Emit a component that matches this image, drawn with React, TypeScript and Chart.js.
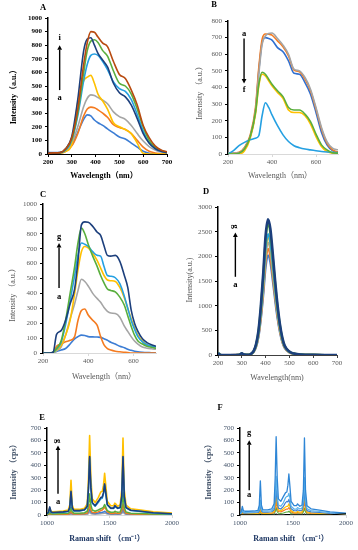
import React, { useEffect, useRef } from "react";
import { Chart, registerables } from "chart.js";
Chart.register(...registerables);

const SERIF = "'Liberation Serif', 'Noto Sans CJK SC', serif";

// ---------- colours ----------
const C_BLUE = "#3c7dd4";
const C_ORANGE = "#f47b20";
const C_GRAY = "#a5a5a5";
const C_YELLOW = "#ffc000";
const C_LBLUE = "#25a0e2";
const C_GREEN = "#59ae3d";
const C_NAVY = "#1c3f7c";
const C_BROWN = "#b84a0f";
const C_MBLUE = "#2e86d6";
const C_SKY = "#5ab3ea";

// ---------- Panel A ----------
const A_X = [200, 225, 250, 275, 300, 325, 350, 365, 380, 395, 410, 430, 450, 475, 500, 525, 550, 575, 600, 625, 650, 675, 700];
const A_a = [10, 10, 10, 25, 65, 160, 255, 288, 280, 250, 230, 210, 185, 155, 125, 110, 80, 50, 20, 5, 0, 0, 0];
const A_b = [3, 3, 5, 20, 60, 150, 280, 330, 345, 340, 325, 300, 270, 215, 195, 180, 150, 100, 50, 20, 8, 3, 0];
const A_c = [5, 5, 8, 25, 80, 200, 350, 410, 435, 430, 415, 395, 370, 310, 275, 255, 210, 150, 95, 55, 30, 15, 8];
const A_d = [0, 0, 5, 20, 70, 380, 540, 565, 578, 520, 440, 390, 330, 230, 200, 180, 150, 80, 5, 0, 0, 0, 0];
const A_e = [5, 5, 8, 30, 100, 280, 540, 660, 725, 735, 725, 680, 620, 530, 480, 460, 400, 290, 170, 80, 40, 20, 10];
const A_f = [5, 5, 8, 35, 110, 300, 600, 760, 830, 840, 820, 760, 720, 610, 520, 500, 440, 330, 200, 100, 50, 25, 12];
const A_g = [10, 8, 10, 40, 130, 400, 760, 845, 855, 800, 740, 690, 640, 520, 450, 420, 360, 260, 150, 80, 40, 20, 10];
const A_h = [5, 8, 10, 40, 120, 330, 660, 820, 900, 895, 860, 815, 790, 680, 585, 555, 470, 360, 210, 120, 60, 30, 15];
const A_XTICKS = [200, 300, 400, 500, 600, 700];

// ---------- Panel B ----------
const B_X = [200, 225, 250, 275, 300, 325, 340, 355, 370, 385, 400, 425, 450, 475, 500, 525, 550, 575, 600, 625, 650, 675, 700];
const B_blue = [5, 5, 8, 35, 100, 260, 500, 670, 700, 695, 685, 640, 615, 560, 485, 480, 430, 360, 250, 130, 55, 20, 10];
const B_orange = [5, 5, 10, 40, 110, 280, 520, 690, 722, 720, 715, 680, 645, 590, 505, 495, 450, 380, 270, 150, 65, 25, 12];
const B_gray = [5, 5, 8, 35, 100, 260, 480, 660, 710, 725, 728, 695, 655, 600, 510, 500, 460, 390, 280, 160, 75, 35, 25];
const B_yellow = [0, 0, 0, 20, 90, 240, 410, 480, 470, 440, 410, 370, 335, 265, 250, 250, 230, 180, 105, 45, 15, 5, 0];
const B_lblue = [0, 20, 50, 70, 85, 95, 110, 230, 308, 280, 235, 170, 115, 75, 50, 38, 30, 25, 20, 15, 12, 10, 8];
const B_green = [0, 0, 5, 30, 100, 250, 420, 492, 480, 450, 420, 380, 345, 280, 265, 265, 240, 195, 120, 55, 25, 8, 5];
const B_XTICKS = [200, 400, 600];

// ---------- Panel C ----------
const C_X = [200, 230, 245, 260, 280, 300, 320, 340, 355, 370, 385, 400, 420, 440, 455, 470, 485, 500, 520, 540, 560, 575, 590, 605, 620, 640, 660, 680, 700];
const C_a = [0, 0, 3, 10, 20, 30, 60, 95, 110, 120, 118, 110, 108, 107, 105, 95, 85, 72, 60, 45, 35, 25, 18, 12, 8, 5, 3, 2, 0];
const C_b = [0, 0, 3, 45, 60, 75, 85, 110, 220, 285, 295, 255, 220, 185, 110, 55, 30, 20, 12, 8, 5, 3, 0, 0, 0, 0, 0, 0, 0];
const C_c = [0, 0, 3, 15, 40, 120, 230, 330, 420, 495, 480, 450, 400, 365, 340, 305, 280, 268, 265, 240, 180, 145, 110, 80, 60, 40, 32, 28, 25];
const C_d = [0, 0, 5, 20, 50, 120, 220, 400, 560, 680, 715, 705, 670, 620, 570, 520, 490, 485, 480, 440, 370, 300, 230, 170, 120, 80, 55, 45, 40];
const C_e = [0, 0, 5, 25, 70, 190, 350, 520, 660, 738, 730, 715, 680, 655, 650, 580, 520, 515, 505, 465, 380, 300, 220, 160, 110, 75, 55, 45, 40];
const C_f = [0, 0, 5, 30, 80, 220, 400, 580, 740, 838, 800, 730, 650, 580, 520, 470, 430, 420, 410, 375, 320, 250, 180, 120, 80, 60, 45, 38, 32];
const C_g = [0, 0, 5, 125, 150, 220, 330, 430, 620, 860, 880, 878, 850, 810, 790, 720, 655, 650, 655, 615, 520, 440, 290, 200, 145, 95, 70, 55, 45];
const C_XTICKS = [200, 400, 600];

// ---------- Panel D ----------
const D_X = [200, 205, 215, 250, 290, 300, 310, 330, 340, 350, 360, 370, 380, 390, 400, 410, 420, 430, 440, 450, 460, 470, 480, 500, 520, 550, 600, 650, 700];
const D_a = [45, 15, 0, 0, 3, 30, 5, 1, 20, 61, 162, 364, 727, 1212, 1778, 2020, 1879, 1515, 1111, 747, 465, 263, 141, 51, 20, 6, 1, 0, 0];
const D_b = [30, 8, 0, 0, 3, 25, 5, 1, 22, 65, 172, 387, 774, 1290, 1892, 2150, 2000, 1613, 1183, 796, 495, 280, 151, 54, 22, 6, 1, 0, 0];
const D_c = [30, 10, 0, 0, 3, 25, 5, 1, 23, 68, 182, 410, 821, 1368, 2006, 2280, 2120, 1710, 1254, 844, 524, 296, 160, 57, 23, 7, 1, 0, 0];
const D_d = [35, 10, 0, 0, 4, 28, 5, 2, 24, 72, 192, 432, 864, 1440, 2112, 2400, 2232, 1800, 1320, 888, 552, 312, 168, 60, 24, 7, 2, 0, 0];
const D_e = [40, 12, 0, 0, 4, 28, 6, 2, 25, 74, 196, 441, 882, 1470, 2156, 2450, 2279, 1838, 1348, 907, 564, 319, 172, 61, 25, 7, 2, 0, 0];
const D_f = [50, 18, 0, 0, 4, 30, 6, 2, 27, 80, 212, 477, 954, 1590, 2332, 2650, 2465, 1988, 1458, 980, 610, 345, 186, 66, 27, 8, 2, 0, 0];
const D_g = [45, 15, 0, 0, 5, 35, 8, 2, 28, 83, 220, 495, 990, 1650, 2420, 2750, 2560, 2060, 1510, 1020, 630, 360, 190, 70, 28, 8, 2, 0, 0];
const D_XTICKS = [200, 300, 400, 500, 600, 700];

// ---------- Panels E / F (Raman) ----------
const R_X = [1000, 1012, 1022, 1032, 1045, 1080, 1130, 1170, 1182, 1192, 1202, 1215, 1260, 1300, 1322, 1332, 1341, 1351, 1362, 1385, 1410, 1430, 1442, 1452, 1461, 1470, 1482, 1510, 1533, 1543, 1553, 1565, 1585, 1598, 1608, 1618, 1632, 1670, 1750, 1850, 2000];
const E_yellow = [15, 25, 55, 30, 25, 28, 32, 40, 80, 280, 80, 45, 45, 55, 90, 300, 640, 300, 130, 100, 140, 185, 190, 240, 335, 240, 110, 75, 75, 95, 85, 70, 80, 200, 620, 200, 80, 50, 40, 25, 15];
const E_navy = [10, 25, 65, 25, 20, 22, 25, 30, 60, 190, 60, 35, 35, 42, 70, 220, 470, 220, 100, 75, 110, 140, 145, 180, 250, 180, 85, 55, 55, 75, 65, 55, 60, 150, 470, 150, 60, 38, 30, 18, 10];
const E_lblue = [10, 22, 55, 22, 18, 20, 22, 28, 55, 180, 55, 32, 32, 40, 65, 210, 460, 210, 95, 70, 100, 130, 135, 170, 240, 170, 80, 52, 52, 70, 62, 52, 58, 145, 460, 145, 58, 36, 28, 16, 8];
const E_green = [5, 10, 25, 10, 8, 10, 12, 14, 25, 60, 25, 15, 15, 18, 30, 80, 170, 80, 40, 30, 40, 50, 55, 65, 85, 65, 35, 22, 22, 30, 26, 22, 24, 60, 180, 60, 24, 15, 12, 8, 5];
const E_orange = [3, 5, 12, 5, 5, 5, 6, 7, 12, 30, 12, 8, 8, 10, 15, 40, 85, 40, 20, 18, 25, 35, 40, 50, 65, 50, 25, 12, 12, 18, 15, 12, 14, 35, 90, 35, 14, 8, 6, 4, 3];
const E_gray = [2, 2, 4, 2, 2, 2, 2, 3, 4, 8, 4, 3, 3, 4, 6, 12, 25, 12, 8, 7, 9, 11, 12, 13, 15, 13, 8, 5, 5, 6, 6, 5, 5, 12, 25, 12, 5, 3, 2, 2, 2];
const E_blue = [4, 6, 15, 6, 5, 6, 7, 8, 10, 18, 10, 8, 8, 10, 14, 25, 48, 25, 14, 12, 16, 20, 22, 24, 30, 24, 14, 9, 9, 12, 10, 9, 10, 22, 50, 22, 10, 7, 5, 4, 3];
const F_g = [15, 30, 70, 35, 30, 30, 32, 38, 80, 275, 80, 42, 42, 50, 90, 300, 630, 300, 130, 110, 150, 180, 185, 240, 330, 240, 110, 75, 75, 90, 80, 70, 80, 200, 620, 200, 75, 50, 40, 25, 15];
const F_f = [10, 20, 45, 22, 20, 22, 24, 28, 45, 120, 45, 30, 30, 36, 60, 160, 310, 160, 80, 70, 100, 140, 150, 150, 175, 140, 70, 48, 48, 60, 55, 48, 55, 120, 300, 120, 50, 35, 28, 18, 10];
const F_e = [8, 15, 35, 16, 15, 16, 18, 20, 32, 85, 32, 22, 22, 26, 42, 110, 210, 110, 55, 48, 70, 100, 110, 105, 125, 100, 50, 34, 34, 42, 38, 34, 38, 85, 195, 85, 35, 25, 20, 12, 8];
const F_d = [5, 10, 22, 10, 10, 10, 12, 14, 22, 60, 22, 15, 15, 18, 30, 85, 165, 85, 40, 35, 50, 65, 70, 70, 90, 70, 35, 22, 22, 28, 25, 22, 25, 70, 175, 70, 25, 18, 14, 9, 5];
const F_c = [4, 7, 15, 7, 7, 7, 8, 10, 15, 40, 15, 10, 10, 12, 20, 55, 110, 55, 28, 25, 35, 45, 48, 48, 60, 48, 25, 15, 15, 20, 18, 15, 18, 50, 120, 50, 18, 12, 10, 6, 4];
const F_b = [2, 4, 8, 4, 4, 4, 4, 5, 8, 20, 8, 5, 5, 6, 10, 28, 60, 28, 14, 12, 16, 22, 24, 24, 30, 24, 12, 8, 8, 10, 9, 8, 9, 25, 55, 25, 9, 6, 5, 3, 2];
const F_a = [1, 1, 2, 1, 1, 1, 1, 1, 2, 4, 2, 1, 1, 1, 2, 4, 8, 4, 2, 2, 2, 3, 3, 3, 4, 3, 2, 1, 1, 2, 2, 1, 1, 4, 8, 4, 1, 1, 1, 1, 10];
const R_XTICKS = [1000, 1500, 2000];

// ---------- panel layout ----------
type SeriesDef = { data: number[]; color: string; width: number };
type TextDef = { text: string; x: number; y: number; rotate?: number; font: string; color: string };
type MarkDef = { text: string; x: number; y: number; rotate?: number };
type PanelDef = {
  box: { left: number; top: number; width: number; height: number };
  plot: { left: number; right: number; top: number; bottom: number };
  xs: number[];
  series: SeriesDef[];
  xMin: number; xMax: number; xTicks: number[];
  yMin: number; yMax: number; yStep: number;
  tickFont: { weight: string; color: string };
  xBorder: string; yBorder: string;
  smooth: boolean;
  texts: TextDef[];
  arrow: { x: number; from: number; to: number };
  marks: MarkDef[];
};

const BOLD8 = `bold 8.5px ${SERIF}`;
const NORM8 = `8px ${SERIF}`;
const GREYT = "#595959";
const SLATE = "#44546a";
const NAVYT = "#1f3864";

const PANELS: PanelDef[] = [
  {
    box: { left: 0, top: 0, width: 178, height: 184 },
    plot: { left: 48, right: 167, top: 18, bottom: 154 },
    xs: A_X,
    series: [
      { data: A_a, color: C_BLUE, width: 1.6 },
      { data: A_b, color: C_ORANGE, width: 1.6 },
      { data: A_c, color: C_GRAY, width: 1.6 },
      { data: A_d, color: C_YELLOW, width: 1.6 },
      { data: A_e, color: C_LBLUE, width: 1.6 },
      { data: A_f, color: C_GREEN, width: 1.6 },
      { data: A_g, color: C_NAVY, width: 1.6 },
      { data: A_h, color: C_BROWN, width: 1.6 },
    ],
    xMin: 200, xMax: 700, xTicks: A_XTICKS,
    yMin: 0, yMax: 1000, yStep: 100,
    tickFont: { weight: "bold", color: "#000" },
    xBorder: "#000", yBorder: "#000",
    smooth: true,
    texts: [
      { text: "A", x: 43, y: 8, font: BOLD8, color: "#000" },
      { text: "Wavelength（nm）", x: 104, y: 176, font: `bold 8px ${SERIF}`, color: "#000" },
      { text: "Intensity（a.u.）", x: 14, y: 95, rotate: -90, font: `bold 8px ${SERIF}`, color: "#000" },
    ],
    arrow: { x: 249, from: 470, to: 800 },
    marks: [ { text: "a", x: 249, y: 410 }, { text: "i", x: 249, y: 852 } ],
  },
  {
    box: { left: 178, top: 0, width: 180, height: 184 },
    plot: { left: 228, right: 338, top: 21, bottom: 154 },
    xs: B_X,
    series: [
      { data: B_blue, color: "#2f6fd0", width: 1.6 },
      { data: B_orange, color: C_ORANGE, width: 1.6 },
      { data: B_gray, color: C_GRAY, width: 1.6 },
      { data: B_yellow, color: C_YELLOW, width: 1.6 },
      { data: B_lblue, color: C_LBLUE, width: 1.6 },
      { data: B_green, color: C_GREEN, width: 1.6 },
    ],
    xMin: 200, xMax: 700, xTicks: B_XTICKS,
    yMin: 0, yMax: 800, yStep: 100,
    tickFont: { weight: "normal", color: GREYT },
    xBorder: "#d9d9d9", yBorder: "#000",
    smooth: true,
    texts: [
      { text: "B", x: 214, y: 5, font: BOLD8, color: "#000" },
      { text: "Wavelength（nm）", x: 280, y: 176, font: NORM8, color: GREYT },
      { text: "Intensity （a.u.）", x: 200, y: 91, rotate: -90, font: NORM8, color: GREYT },
    ],
    arrow: { x: 273, from: 694, to: 424 },
    marks: [ { text: "a", x: 273, y: 724 }, { text: "f", x: 273, y: 384 } ],
  },
  {
    box: { left: 0, top: 184, width: 178, height: 200 },
    plot: { left: 43, right: 156, top: 204, bottom: 353 },
    xs: C_X,
    series: [
      { data: C_a, color: C_BLUE, width: 1.6 },
      { data: C_b, color: C_ORANGE, width: 1.6 },
      { data: C_c, color: C_GRAY, width: 1.6 },
      { data: C_d, color: C_YELLOW, width: 1.6 },
      { data: C_e, color: C_LBLUE, width: 1.6 },
      { data: C_f, color: C_GREEN, width: 1.6 },
      { data: C_g, color: C_NAVY, width: 1.6 },
    ],
    xMin: 200, xMax: 700, xTicks: C_XTICKS,
    yMin: 0, yMax: 1000, yStep: 100,
    tickFont: { weight: "normal", color: GREYT },
    xBorder: "#d9d9d9", yBorder: "#000",
    smooth: true,
    texts: [
      { text: "C", x: 43, y: 195, font: BOLD8, color: "#000" },
      { text: "Wavelength（nm）", x: 104, y: 377, font: NORM8, color: GREYT },
      { text: "Intensity （a.u.）", x: 13, y: 293, rotate: -90, font: NORM8, color: GREYT },
    ],
    arrow: { x: 271, from: 436, to: 738 },
    marks: [ { text: "a", x: 271, y: 374 }, { text: "g", x: 271, y: 783 } ],
  },
  {
    box: { left: 178, top: 184, width: 180, height: 200 },
    plot: { left: 218, right: 337, top: 207, bottom: 355 },
    xs: D_X,
    series: [
      { data: D_a, color: C_BLUE, width: 2.2 },
      { data: D_b, color: C_ORANGE, width: 2.2 },
      { data: D_c, color: C_GRAY, width: 2.2 },
      { data: D_d, color: C_YELLOW, width: 2.2 },
      { data: D_e, color: C_LBLUE, width: 2.2 },
      { data: D_f, color: C_GREEN, width: 2.2 },
      { data: D_g, color: C_NAVY, width: 2.6 },
    ],
    xMin: 200, xMax: 700, xTicks: D_XTICKS,
    yMin: 0, yMax: 3000, yStep: 500,
    tickFont: { weight: "normal", color: GREYT },
    xBorder: "#404040", yBorder: "#000",
    smooth: true,
    texts: [
      { text: "D", x: 206, y: 192, font: BOLD8, color: "#000" },
      { text: "Wavelength(nm)", x: 277, y: 378, font: NORM8, color: GREYT },
      { text: "Intensity(a.u.)", x: 190, y: 280, rotate: -90, font: NORM8, color: GREYT },
    ],
    arrow: { x: 273, from: 1585, to: 2481 },
    marks: [ { text: "a", x: 273, y: 1416 }, { text: "g", x: 273, y: 2600, rotate: 90 } ],
  },
  {
    box: { left: 0, top: 384, width: 185, height: 166 },
    plot: { left: 47, right: 172, top: 428, bottom: 515 },
    xs: R_X,
    series: [
      { data: E_gray, color: C_GRAY, width: 1.5 },
      { data: E_blue, color: C_BLUE, width: 1.5 },
      { data: E_orange, color: C_ORANGE, width: 1.5 },
      { data: E_green, color: C_GREEN, width: 1.5 },
      { data: E_yellow, color: C_YELLOW, width: 1.6 },
      { data: E_lblue, color: C_LBLUE, width: 1.5 },
      { data: E_navy, color: C_NAVY, width: 1.6 },
    ],
    xMin: 1000, xMax: 2000, xTicks: R_XTICKS,
    yMin: 0, yMax: 700, yStep: 100,
    tickFont: { weight: "normal", color: SLATE },
    xBorder: "#d9d9d9", yBorder: "#000",
    smooth: false,
    texts: [
      { text: "E", x: 42, y: 418, font: BOLD8, color: "#000" },
      { text: "Raman shift （cm⁻¹）", x: 107, y: 539, font: `bold 8px ${SERIF}`, color: NAVYT },
      { text: "Intensity （cps）", x: 14, y: 470, rotate: -90, font: `bold 8px ${SERIF}`, color: SLATE },
    ],
    arrow: { x: 1088, from: 170, to: 560 },
    marks: [ { text: "a", x: 1088, y: 107 }, { text: "g", x: 1088, y: 595, rotate: 90 } ],
  },
  {
    box: { left: 185, top: 384, width: 173, height: 166 },
    plot: { left: 240, right: 346, top: 428, bottom: 515 },
    xs: R_X,
    series: [
      { data: F_b, color: C_GREEN, width: 1.2 },
      { data: F_c, color: C_ORANGE, width: 1.2 },
      { data: F_d, color: C_YELLOW, width: 1.2 },
      { data: F_e, color: C_BLUE, width: 1.2 },
      { data: F_f, color: C_SKY, width: 1.2 },
      { data: F_g, color: C_MBLUE, width: 1.3 },
      { data: F_a, color: "#000", width: 1.2 },
    ],
    xMin: 1000, xMax: 2000, xTicks: R_XTICKS,
    yMin: 0, yMax: 700, yStep: 100,
    tickFont: { weight: "normal", color: SLATE },
    xBorder: "#d9d9d9", yBorder: "#000",
    smooth: false,
    texts: [
      { text: "F", x: 220, y: 408, font: BOLD8, color: "#000" },
      { text: "Raman shift （cm⁻¹）", x: 291, y: 539, font: `bold 8px ${SERIF}`, color: NAVYT },
      { text: "Intensity （cps）", x: 209, y: 470, rotate: -90, font: `bold 8px ${SERIF}`, color: SLATE },
    ],
    arrow: { x: 1087, from: 200, to: 602 },
    marks: [ { text: "a", x: 1087, y: 160 }, { text: "g", x: 1087, y: 663 } ],
  },
];

function makeDeco(p: PanelDef) {
  return {
    id: "deco",
    afterDraw(chart: any) {
      const ctx: CanvasRenderingContext2D = chart.ctx;
      const sx = chart.scales.x;
      const sy = chart.scales.y;
      const ox = p.box.left;
      const oy = p.box.top;
      ctx.save();
      ctx.textAlign = "center";
      ctx.textBaseline = "middle";
      const put = (text: string, x: number, y: number, font: string, color: string, rotate?: number) => {
        ctx.save();
        ctx.font = font;
        ctx.fillStyle = color;
        ctx.translate(x, y);
        if (rotate) ctx.rotate((rotate * Math.PI) / 180);
        ctx.fillText(text, 0, 0);
        ctx.restore();
      };
      for (const t of p.texts) put(t.text, t.x - ox, t.y - oy, t.font, t.color, t.rotate);
      const ax = sx.getPixelForValue(p.arrow.x);
      const y1 = sy.getPixelForValue(p.arrow.from);
      const y2 = sy.getPixelForValue(p.arrow.to);
      const dir = y2 < y1 ? -1 : 1;
      const head = 4.5;
      ctx.strokeStyle = "#000";
      ctx.fillStyle = "#000";
      ctx.lineWidth = 1.4;
      ctx.beginPath();
      ctx.moveTo(ax, y1);
      ctx.lineTo(ax, y2 - dir * head);
      ctx.stroke();
      ctx.beginPath();
      ctx.moveTo(ax, y2);
      ctx.lineTo(ax - 2.4, y2 - dir * head);
      ctx.lineTo(ax + 2.4, y2 - dir * head);
      ctx.closePath();
      ctx.fill();
      for (const m of p.marks) {
        put(m.text, ax, sy.getPixelForValue(m.y), BOLD8, "#000", m.rotate);
      }
      ctx.restore();
    },
  };
}

function buildConfig(p: PanelDef): any {
  const yW = p.plot.left - p.box.left;
  const padT = p.plot.top - p.box.top;
  const padR = p.box.left + p.box.width - p.plot.right;
  const xH = p.box.top + p.box.height - p.plot.bottom;
  const tickFont = { family: SERIF, size: 7, weight: p.tickFont.weight };
  const plain = (v: any) => String(v);
  return {
    type: "line",
    data: {
      datasets: p.series.map((s, i) => ({
        data: p.xs.map((x, j) => ({ x, y: s.data[j] })),
        borderColor: s.color,
        backgroundColor: s.color,
        borderWidth: s.width,
        pointRadius: 0,
        fill: false,
        tension: p.smooth ? 0.4 : 0,
        cubicInterpolationMode: p.smooth ? "monotone" : "default",
        borderJoinStyle: "round",
        order: -i,
      })),
    },
    options: {
      animation: false,
      responsive: false,
      maintainAspectRatio: false,
      devicePixelRatio: 1,
      events: [],
      layout: { padding: { top: padT, right: padR, left: 0, bottom: 0 } },
      plugins: { legend: { display: false }, tooltip: { enabled: false }, title: { display: false } },
      scales: {
        x: {
          type: "linear",
          min: p.xMin,
          max: p.xMax,
          afterBuildTicks: (ax: any) => {
            ax.ticks = p.xTicks.map((v) => ({ value: v }));
          },
          afterFit: (s: any) => {
            s.height = xH;
          },
          ticks: { font: tickFont, color: p.tickFont.color, padding: 1, maxRotation: 0, autoSkip: false, callback: plain },
          grid: { display: true, drawOnChartArea: false, drawTicks: true, tickLength: 3, color: p.xBorder },
          border: { display: true, color: p.xBorder, width: 1 },
          title: { display: false },
        },
        y: {
          type: "linear",
          min: p.yMin,
          max: p.yMax,
          ticks: { stepSize: p.yStep, font: tickFont, color: p.tickFont.color, padding: 3, callback: plain },
          afterFit: (s: any) => {
            s.width = yW;
          },
          grid: { display: true, drawOnChartArea: false, drawTicks: true, tickLength: 3, color: p.yBorder },
          border: { display: true, color: p.yBorder, width: 1.5 },
          title: { display: false },
        },
      },
    },
    plugins: [makeDeco(p)],
  };
}

function Panel({ p }: { p: PanelDef }) {
  const ref = useRef<HTMLCanvasElement>(null);
  useEffect(() => {
    if (!ref.current) return;
    const chart = new Chart(ref.current, buildConfig(p));
    return () => chart.destroy();
  }, [p]);
  return (
    <canvas
      ref={ref}
      width={p.box.width}
      height={p.box.height}
      style={{ position: "absolute", left: p.box.left, top: p.box.top, width: p.box.width, height: p.box.height }}
    />
  );
}

export default function App() {
  return (
    <div style={{ position: "absolute", left: 0, top: 0, width: 358, height: 550, background: "#fff", overflow: "hidden" }}>
      {PANELS.map((p, i) => (
        <Panel key={i} p={p} />
      ))}
    </div>
  );
}
